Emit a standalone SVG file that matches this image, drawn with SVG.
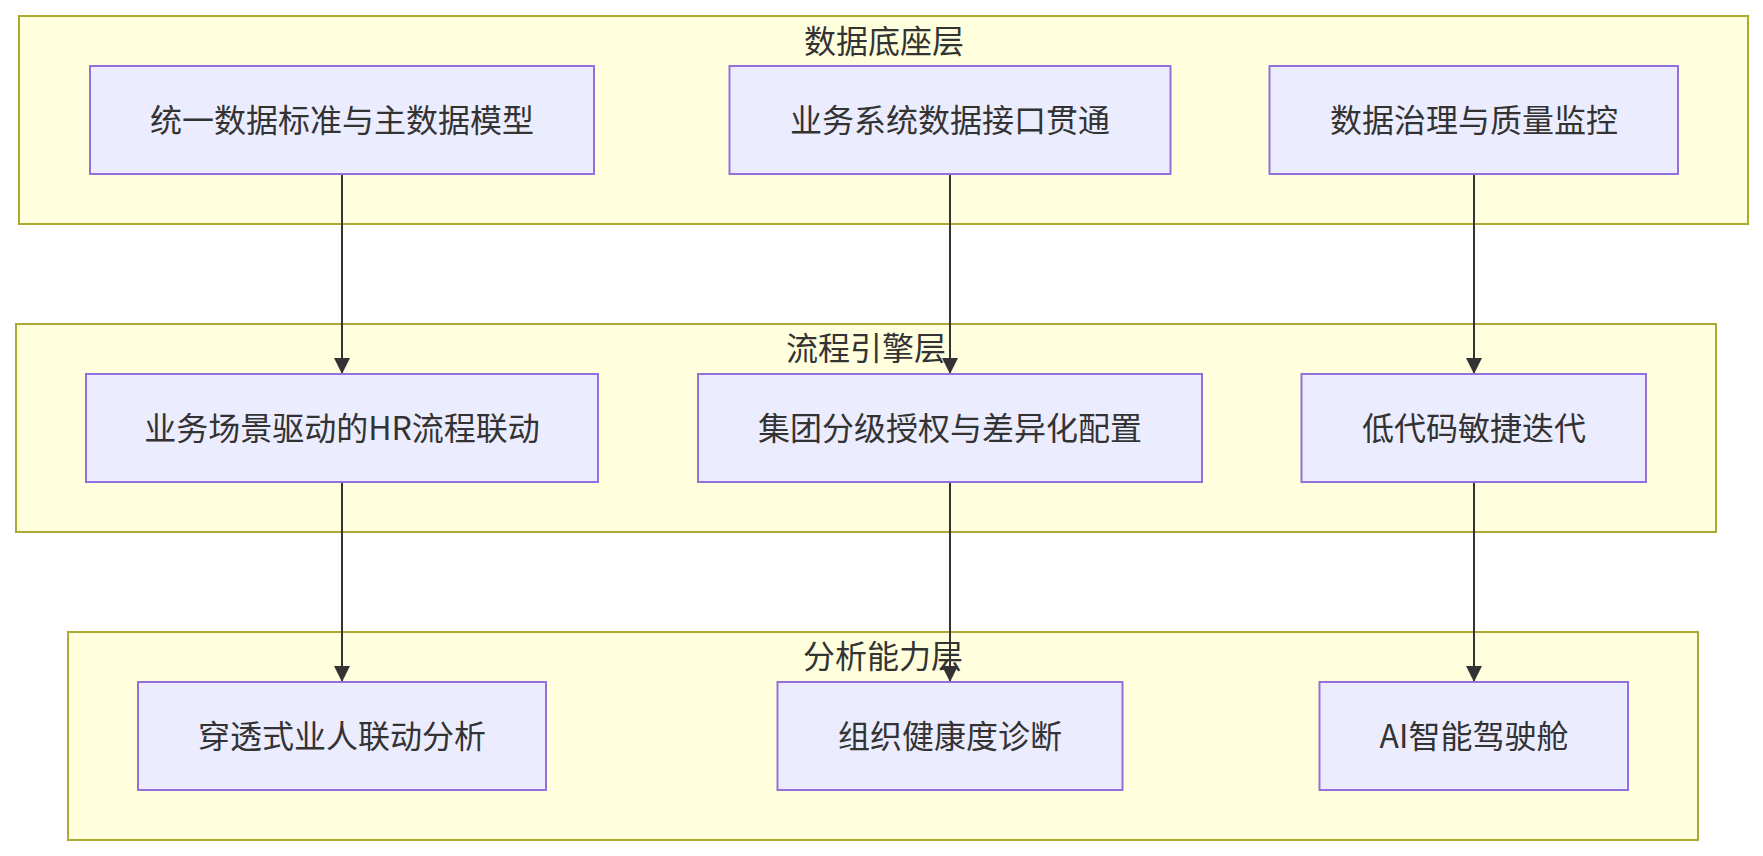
<svg xmlns="http://www.w3.org/2000/svg" width="1763" height="856" viewBox="0 0 1763 856">
<style>
.cluster rect{fill:#ffffde;stroke:#aaaa33;stroke-width:2}
.node rect{fill:#ececff;stroke:#9370db;stroke-width:2}
text{font-family:"Noto Sans CJK SC","Noto Sans",sans-serif;font-size:32px;fill:#333;text-anchor:middle}
.edge{stroke:#333;stroke-width:2;fill:none}
</style>
<defs>
<marker id="arrow" viewBox="0 0 10 10" refX="10" refY="5" markerUnits="userSpaceOnUse" markerWidth="16" markerHeight="16" orient="auto">
<path d="M0,0 L10,5 L0,10 z" fill="#333"/>
</marker>
</defs>
<rect width="1763" height="856" fill="#fff"/>
<g id="cluster-data" class="cluster">
<rect x="19" y="16" width="1729" height="208"/>
<text x="884" y="53">数据底座层</text>
</g>
<g id="cluster-flow" class="cluster">
<rect x="16" y="324" width="1700" height="208"/>
<text x="866" y="360">流程引擎层</text>
</g>
<g id="cluster-analysis" class="cluster">
<rect x="68" y="632" width="1630" height="208"/>
<text x="883" y="668">分析能力层</text>
</g>
<g id="edges">
<line class="edge" x1="342" y1="174" x2="342" y2="374" marker-end="url(#arrow)"/>
<line class="edge" x1="950" y1="174" x2="950" y2="374" marker-end="url(#arrow)"/>
<line class="edge" x1="1474" y1="174" x2="1474" y2="374" marker-end="url(#arrow)"/>
<line class="edge" x1="342" y1="482" x2="342" y2="682" marker-end="url(#arrow)"/>
<line class="edge" x1="950" y1="482" x2="950" y2="682" marker-end="url(#arrow)"/>
<line class="edge" x1="1474" y1="482" x2="1474" y2="682" marker-end="url(#arrow)"/>
</g>
<g id="node-A1" class="node">
<rect x="90" y="66" width="504" height="108"/>
<text x="342" y="132">统一数据标准与主数据模型</text>
</g>
<g id="node-A2" class="node">
<rect x="729.5" y="66" width="441" height="108"/>
<text x="950" y="132">业务系统数据接口贯通</text>
</g>
<g id="node-A3" class="node">
<rect x="1269.5" y="66" width="408.5" height="108"/>
<text x="1474" y="132">数据治理与质量监控</text>
</g>
<g id="node-B1" class="node">
<rect x="86" y="374" width="512" height="108"/>
<text x="342" y="440">业务场景驱动的HR流程联动</text>
</g>
<g id="node-B2" class="node">
<rect x="698" y="374" width="504" height="108"/>
<text x="950" y="440">集团分级授权与差异化配置</text>
</g>
<g id="node-B3" class="node">
<rect x="1301.5" y="374" width="344.5" height="108"/>
<text x="1474" y="440">低代码敏捷迭代</text>
</g>
<g id="node-C1" class="node">
<rect x="138" y="682" width="408" height="108"/>
<text x="342" y="748">穿透式业人联动分析</text>
</g>
<g id="node-C2" class="node">
<rect x="777.5" y="682" width="345" height="108"/>
<text x="950" y="748">组织健康度诊断</text>
</g>
<g id="node-C3" class="node">
<rect x="1319.5" y="682" width="308.5" height="108"/>
<text x="1474" y="748">AI智能驾驶舱</text>
</g>
</svg>
